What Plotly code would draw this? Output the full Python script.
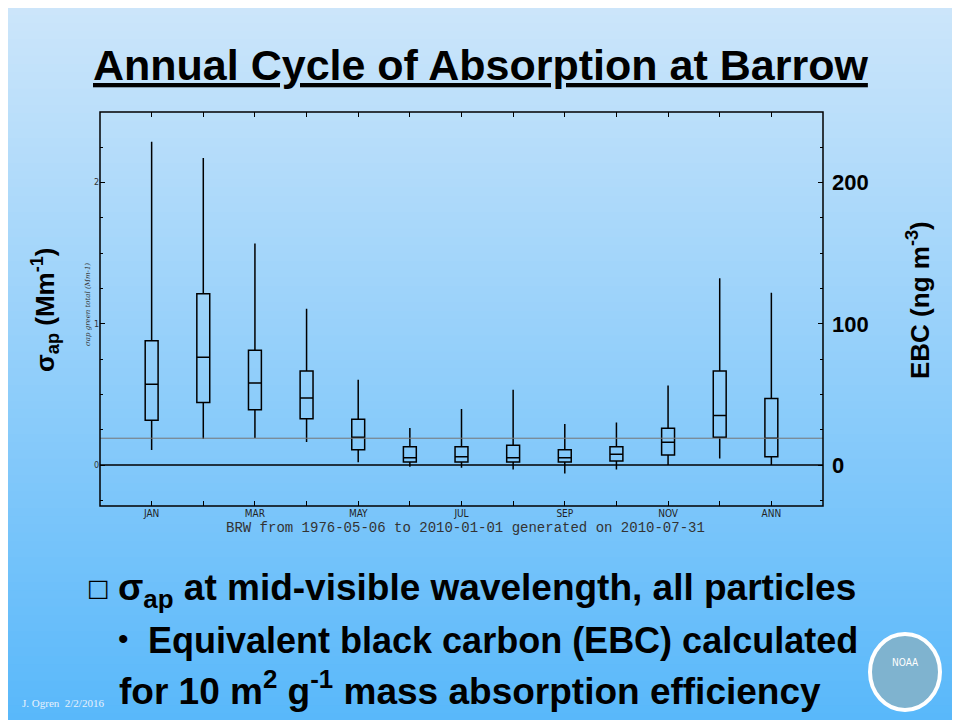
import plotly.graph_objects as go

months = ["JAN", "FEB", "MAR", "APR", "MAY", "JUN", "JUL", "AUG", "SEP", "OCT", "NOV", "DEC", "ANN"]
tick_labels = ["JAN", "", "MAR", "", "MAY", "", "JUL", "", "SEP", "", "NOV", "", "ANN"]
upper = [2.29, 2.175, 1.569, 1.107, 0.604, 0.263, 0.396, 0.533, 0.291, 0.301, 0.564, 1.322, 1.220]
q3 = [0.88, 1.213, 0.813, 0.666, 0.325, 0.130, 0.130, 0.140, 0.109, 0.130, 0.261, 0.666, 0.472]
median = [0.573, 0.763, 0.581, 0.474, 0.197, 0.052, 0.059, 0.052, 0.052, 0.076, 0.161, 0.351, 0.190]
q1 = [0.318, 0.443, 0.391, 0.327, 0.109, 0.021, 0.021, 0.021, 0.021, 0.028, 0.071, 0.197, 0.059]
lower = [0.107, 0.185, 0.192, 0.164, 0.019, -0.012, -0.019, -0.031, -0.059, -0.031, 0.0, 0.047, 0.0]
ref_line = 0.19
ebc_ticks = [0, 100, 200]

pos = list(range(len(months)))

fig = go.Figure()

# gradient slide background
n = 90
top_c = (207, 231, 251)
bot_c = (88, 184, 250)
shapes = []
for i in range(n):
    f = i / (n - 1)
    c = tuple(int(top_c[k] + (bot_c[k] - top_c[k]) * f) for k in range(3))
    y1 = (506 + 10) / 394 - i * 740 / 394 / n
    shapes.append(dict(type="rect", xref="paper", yref="paper", layer="below",
                       x0=-0.3, x1=1.3, y0=y1 - 740 / 394 / n - 0.003, y1=y1,
                       fillcolor="rgb(%d,%d,%d)" % c, line_width=0))

fig.add_trace(go.Box(
    x=pos, q1=q1, median=median, q3=q3, lowerfence=lower, upperfence=upper,
    fillcolor="rgba(0,0,0,0)", line=dict(color="black", width=1.5),
    width=0.25, whiskerwidth=0, showlegend=False, hoverinfo="skip",
))
fig.add_trace(go.Scatter(x=[-1, 13], y=[ref_line, ref_line], mode="lines",
                         line=dict(color="#777777", width=1), showlegend=False))
fig.add_trace(go.Scatter(x=[-1, 13], y=[0, 0], mode="lines",
                         line=dict(color="black", width=1.5), showlegend=False))
fig.add_trace(go.Scatter(x=[None], y=[None], yaxis="y2", showlegend=False))

shapes.append(dict(type="rect", xref="paper", yref="paper", x0=0, x1=1, y0=0, y1=1,
                   line=dict(color="black", width=1.5)))
# NOAA logo
shapes.append(dict(type="circle", xref="paper", yref="paper",
                   x0=(870 - 100) / 723, x1=(940 - 100) / 723,
                   y0=(506 - 710) / 394, y1=(506 - 634) / 394,
                   fillcolor="#7fb3cf", line=dict(color="white", width=4)))

F = "Liberation Sans"
ann = [
    dict(text="<b><u>Annual Cycle of Absorption at Barrow</u></b>", x=480, y=65,
         font=dict(size=43, family=F, color="black")),
    dict(text="<b>σ<sub>ap</sub> (Mm<sup>-1</sup>)</b>", x=45, y=310, textangle=-90,
         font=dict(size=26, family=F, color="black")),
    dict(text="<b>EBC (ng m<sup>-3</sup>)</b>", x=918, y=300, textangle=-90,
         font=dict(size=26, family=F, color="black")),
    dict(text="<i>σap green total (Mm-1)</i>", x=88, y=305, textangle=-90,
         font=dict(size=7, family="DejaVu Serif", color="#333333")),
    dict(text="BRW from 1976-05-06 to 2010-01-01 generated on 2010-07-31", x=465, y=528,
         font=dict(size=14, family="Liberation Mono", color="#333333")),
    dict(text="□", x=85, y=588, xanchor="left",
         font=dict(size=24, family="DejaVu Sans", color="black")),
    dict(text="<b>σ<sub>ap</sub> at mid-visible wavelength, all particles</b>", x=116, y=590, xanchor="left",
         font=dict(size=37, family=F, color="black")),
    dict(text="•", x=116, y=638, xanchor="left",
         font=dict(size=30, family=F, color="black")),
    dict(text="<b>Equivalent black carbon (EBC) calculated</b>", x=146, y=640, xanchor="left",
         font=dict(size=36, family=F, color="black")),
    dict(text="<b>for 10 m<sup>2</sup> g<sup>-1</sup> mass absorption efficiency</b>", x=117, y=688, xanchor="left",
         font=dict(size=37, family=F, color="black")),
    dict(text="J. Ogren  2/2/2016", x=20, y=703, xanchor="left",
         font=dict(size=11, family="Liberation Serif", color="#e8f2fb")),
    dict(text="NOAA", x=905, y=662,
         font=dict(size=10, family="DejaVu Sans Condensed", color="white")),
]
annotations = []
for a in ann:
    d = dict(xref="paper", yref="paper", showarrow=False, xanchor="center", yanchor="middle")
    d.update(a)
    d["x"] = (a["x"] - 100) / 723
    d["y"] = (506 - a["y"]) / 394
    annotations.append(d)

fig.update_layout(
    width=952, height=712,
    margin=dict(l=92, r=137, t=104, b=214),
    paper_bgcolor="#8cc8f8", plot_bgcolor="rgba(0,0,0,0)",
    shapes=shapes, annotations=annotations,
    xaxis=dict(range=[-1, 13], tickvals=pos, ticktext=tick_labels, showgrid=False, zeroline=False,
               ticks="inside", ticklen=5, tickcolor="black", mirror="ticks", showline=False,
               tickfont=dict(size=10, family="DejaVu Sans Condensed", color="#222222")),
    yaxis=dict(range=[-0.29, 2.5], tickvals=[0, 1, 2], showgrid=False, zeroline=False,
               ticks="inside", ticklen=5, tickcolor="black",
               minor=dict(dtick=0.25, ticks="inside", ticklen=3, tickcolor="black"),
               tickfont=dict(size=8, family="DejaVu Sans", color="#333333")),
    yaxis2=dict(overlaying="y", side="right", range=[-29, 250], tickvals=ebc_ticks,
                showgrid=False, zeroline=False, ticks="inside", ticklen=5, tickcolor="black",
                minor=dict(dtick=25, ticks="inside", ticklen=3, tickcolor="black"),
                tickfont=dict(size=22, family=F, color="black", weight="bold"),
                ticklabelstandoff=8),
)

fig.write_html("out.html")
